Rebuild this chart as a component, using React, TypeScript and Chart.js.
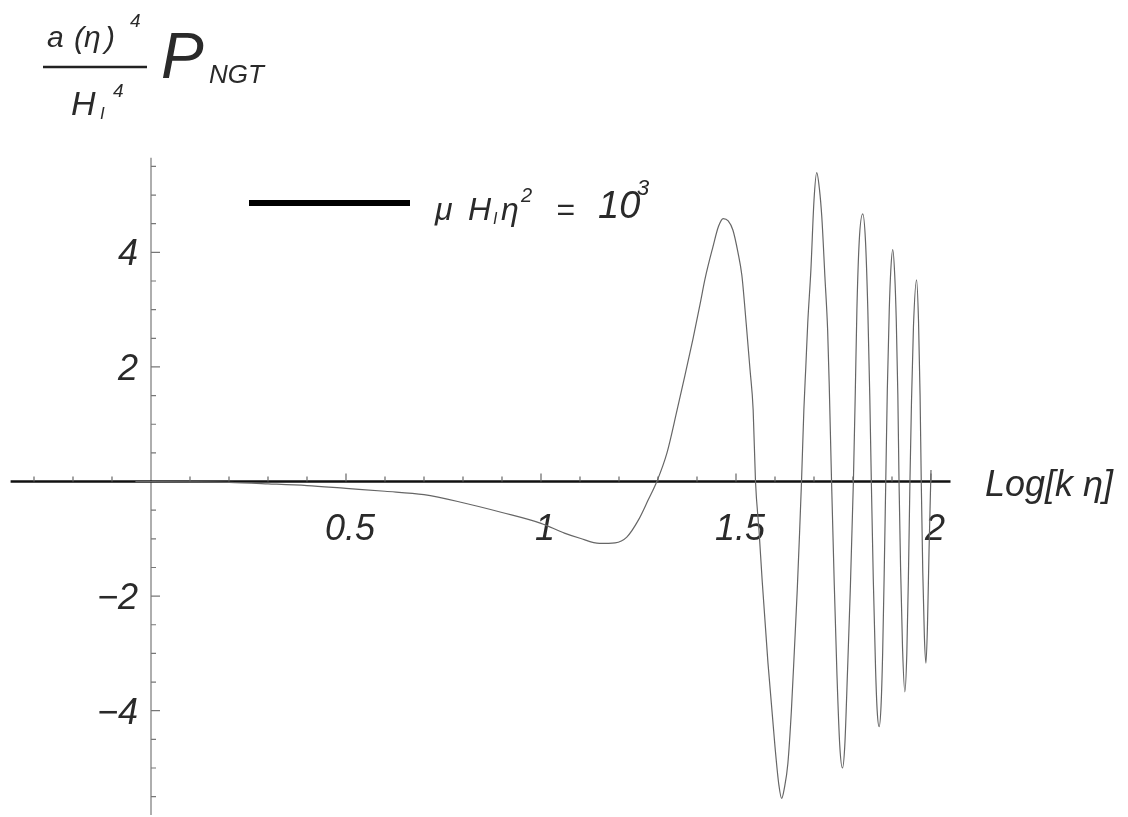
import React, { useEffect, useRef } from "react";
import { Chart, registerables } from "chart.js";

Chart.register(...registerables);

// Log[k η] sample positions and the corresponding a(η)^4/H_I^4 P_NGT values
const logK = [
  -0.04, 0, 0.1, 0.2, 0.3, 0.4, 0.5, 0.6, 0.7, 0.8, 0.9, 1.0, 1.06, 1.1, 1.15, 1.19, 1.22, 1.25, 1.275,
  1.297, 1.323, 1.349, 1.364, 1.39, 1.408, 1.421, 1.441, 1.455, 1.467, 1.48, 1.492, 1.505, 1.515, 1.526, 1.536, 1.544,
  1.55, 1.559, 1.567, 1.582, 1.6, 1.61, 1.617, 1.624, 1.633, 1.642, 1.65, 1.657, 1.663,
  1.668, 1.674, 1.679, 1.684, 1.692, 1.7, 1.707, 1.714, 1.72, 1.728, 1.735, 1.739,
  1.745, 1.752, 1.759, 1.766, 1.773, 1.779, 1.786, 1.793,
  1.801, 1.806, 1.81, 1.816, 1.825, 1.832, 1.838, 1.843,
  1.847, 1.852, 1.858, 1.862, 1.867, 1.872, 1.876, 1.88,
  1.884, 1.888, 1.893, 1.897, 1.902, 1.907, 1.911, 1.915,
  1.918, 1.922, 1.927, 1.933, 1.938, 1.942,
  1.946, 1.95, 1.955, 1.963, 1.968, 1.972,
  1.975, 1.979, 1.983, 1.987, 1.991, 1.995, 2.0,
];

const pNGT = [
  0, 0, -0.005, -0.015, -0.04, -0.07, -0.12, -0.17, -0.23, -0.37, -0.54, -0.73, -0.9, -0.99, -1.08, -1.07, -0.97, -0.67, -0.32,
  0, 0.5, 1.25, 1.7, 2.5, 3.1, 3.55, 4.1, 4.45, 4.59, 4.55, 4.39, 4.0, 3.6, 2.77, 1.95, 1.25,
  0, -0.85, -1.72, -3.17, -4.63, -5.3, -5.53, -5.35, -4.92, -4.0, -2.9, -1.9, -0.9,
  0, 1.25, 2.0, 2.77, 3.69, 4.91, 5.39, 5.1, 4.62, 3.57, 2.64, 1.7,
  0, -1.8, -3.4, -4.6, -5.0, -4.6, -3.3, -1.9,
  0, 1.6, 3.0, 4.2, 4.67, 4.2, 3.0, 1.5,
  0, -1.7, -3.3, -4.0, -4.28, -3.9, -3.0, -1.6,
  0, 1.6, 3.0, 3.7, 4.05, 3.6, 2.8, 1.5,
  0, -1.5, -2.9, -3.67, -3.0, -1.7,
  0, 1.4, 2.7, 3.52, 2.8, 1.5,
  0, -1.6, -2.7, -3.17, -2.5, -1.2, 0.2,
];

// Axis ticks
const xMinorTicks = [-0.3, -0.2, -0.1, 0.1, 0.2, 0.3, 0.4, 0.6, 0.7, 0.8, 0.9, 1.1, 1.2, 1.3, 1.4, 1.6, 1.7, 1.8, 1.9];
const xMajorTicks = [0.5, 1, 1.5, 2];
const xTickLabels = ["0.5", "1", "1.5", "2"];
const yMinorTicks = [-5.5, -5, -4.5, -3.5, -3, -2.5, -1.5, -1, -0.5, 0.5, 1, 1.5, 2.5, 3, 3.5, 4.5, 5, 5.5];
const yMajorTicks = [-4, -2, 2, 4];
const yTickLabels = ["\u22124", "\u22122", "2", "4"];

const seriesLabel = "μ H_I η^2 = 10^3";
const xAxisTitle = "Log[k η]";

const FONT = '"Liberation Sans", Arial, Helvetica, sans-serif';

type Glyph = { t: string; x: number; y: number; size: number; italic?: boolean };

function drawGlyphs(ctx: CanvasRenderingContext2D, glyphs: Glyph[]) {
  ctx.textAlign = "left";
  ctx.textBaseline = "alphabetic";
  for (const g of glyphs) {
    ctx.font = `${g.italic === false ? "" : "italic "}${g.size}px ${FONT}`;
    ctx.fillText(g.t, g.x, g.y);
  }
}

const axesPlugin = {
  id: "crossedAxes",
  beforeDatasetsDraw(chart: any) {
    const ctx: CanvasRenderingContext2D = chart.ctx;
    const xs = chart.scales.x;
    const ys = chart.scales.y;
    const { left, right, top, bottom } = chart.chartArea;
    const x0 = xs.getPixelForValue(0);
    const y0 = ys.getPixelForValue(0);
    ctx.save();

    // vertical axis
    ctx.strokeStyle = "#9a9a9a";
    ctx.lineWidth = 1.6;
    ctx.beginPath();
    ctx.moveTo(x0, top);
    ctx.lineTo(x0, bottom);
    ctx.stroke();

    // vertical axis ticks (pointing right)
    ctx.strokeStyle = "#777";
    ctx.lineWidth = 1.2;
    ctx.beginPath();
    for (const v of yMinorTicks) {
      const py = ys.getPixelForValue(v);
      ctx.moveTo(x0, py);
      ctx.lineTo(x0 + 5, py);
    }
    for (const v of yMajorTicks) {
      const py = ys.getPixelForValue(v);
      ctx.moveTo(x0, py);
      ctx.lineTo(x0 + 9, py);
    }
    ctx.stroke();

    // horizontal axis
    ctx.strokeStyle = "#111";
    ctx.lineWidth = 2.6;
    ctx.beginPath();
    ctx.moveTo(left, y0);
    ctx.lineTo(right, y0);
    ctx.stroke();

    // horizontal axis ticks (pointing up)
    ctx.strokeStyle = "#666";
    ctx.lineWidth = 1.2;
    ctx.beginPath();
    for (const v of xMinorTicks) {
      const px = xs.getPixelForValue(v);
      ctx.moveTo(px, y0);
      ctx.lineTo(px, y0 - 5);
    }
    for (const v of xMajorTicks) {
      const px = xs.getPixelForValue(v);
      ctx.moveTo(px, y0);
      ctx.lineTo(px, y0 - 8);
    }
    ctx.stroke();

    // tick labels
    ctx.fillStyle = "#2a2a2a";
    ctx.font = `italic 36px ${FONT}`;
    ctx.textAlign = "center";
    ctx.textBaseline = "alphabetic";
    xMajorTicks.forEach((v, i) => {
      ctx.fillText(xTickLabels[i], xs.getPixelForValue(v) + 4, y0 + 58);
    });
    ctx.textAlign = "right";
    yMajorTicks.forEach((v, i) => {
      ctx.fillText(yTickLabels[i], x0 - 13, ys.getPixelForValue(v) + 13);
    });

    // axis title
    ctx.textAlign = "left";
    ctx.font = `italic 36px ${FONT}`;
    ctx.fillText(xAxisTitle, 985, y0 + 14);
    ctx.restore();
  },
  afterDraw(chart: any) {
    const ctx: CanvasRenderingContext2D = chart.ctx;
    ctx.save();
    ctx.fillStyle = "#2a2a2a";

    // vertical quantity: a(η)^4 / H_I^4  P_NGT
    drawGlyphs(ctx, [
      { t: "a", x: 47, y: 47, size: 30 },
      { t: "(", x: 74, y: 48, size: 30 },
      { t: "η", x: 84, y: 47, size: 30 },
      { t: ")", x: 105, y: 48, size: 30 },
      { t: "4", x: 130, y: 27, size: 19 },
      { t: "H", x: 71, y: 115, size: 34 },
      { t: "I", x: 100, y: 119, size: 17 },
      { t: "4", x: 113, y: 97, size: 19 },
      { t: "P", x: 161, y: 78, size: 64 },
      { t: "NGT", x: 209, y: 83, size: 26 },
    ]);
    ctx.strokeStyle = "#222";
    ctx.lineWidth = 2.5;
    ctx.beginPath();
    ctx.moveTo(43, 67);
    ctx.lineTo(147, 67);
    ctx.stroke();

    // legend entry
    ctx.strokeStyle = "#000";
    ctx.lineWidth = 6;
    ctx.lineCap = "butt";
    ctx.beginPath();
    ctx.moveTo(249, 203);
    ctx.lineTo(410, 203);
    ctx.stroke();
    ctx.fillStyle = "#2a2a2a";
    drawGlyphs(ctx, [
      { t: "μ", x: 435, y: 220, size: 32 },
      { t: "H", x: 468, y: 220, size: 32 },
      { t: "I", x: 493, y: 224, size: 16 },
      { t: "η", x: 501, y: 220, size: 32 },
      { t: "2", x: 521, y: 202, size: 20 },
      { t: "=", x: 556, y: 220, size: 32 },
      { t: "10", x: 598, y: 218, size: 38 },
      { t: "3", x: 637, y: 195, size: 22 },
    ]);
    ctx.restore();
  },
};

export default function App() {
  const canvasRef = useRef<HTMLCanvasElement | null>(null);

  useEffect(() => {
    const canvas = canvasRef.current;
    if (!canvas) return;
    const points = logK.map((x, i) => ({ x, y: pNGT[i] }));
    const chart = new Chart(canvas, {
      type: "line",
      data: {
        datasets: [
          {
            label: seriesLabel,
            data: points,
            borderColor: "#666",
            borderWidth: 1.2,
            pointRadius: 0,
            fill: false,
            cubicInterpolationMode: "monotone",
          },
        ],
      },
      plugins: [axesPlugin],
      options: {
        responsive: false,
        animation: false,
        devicePixelRatio: 1,
        layout: { padding: { left: 10.6, right: 177.5, top: 157.8, bottom: 2 } },
        plugins: {
          legend: { display: false },
          tooltip: { enabled: false },
          title: { display: false },
        },
        scales: {
          x: { type: "linear", min: -0.36, max: 2.05, display: false },
          y: { type: "linear", min: -5.82, max: 5.65, display: false },
        },
      },
    });
    return () => chart.destroy();
  }, []);

  return (
    <div style={{ position: "fixed", left: 0, top: 0, width: 1128, height: 817, background: "#fff" }}>
      <canvas ref={canvasRef} width={1128} height={817} />
    </div>
  );
}
